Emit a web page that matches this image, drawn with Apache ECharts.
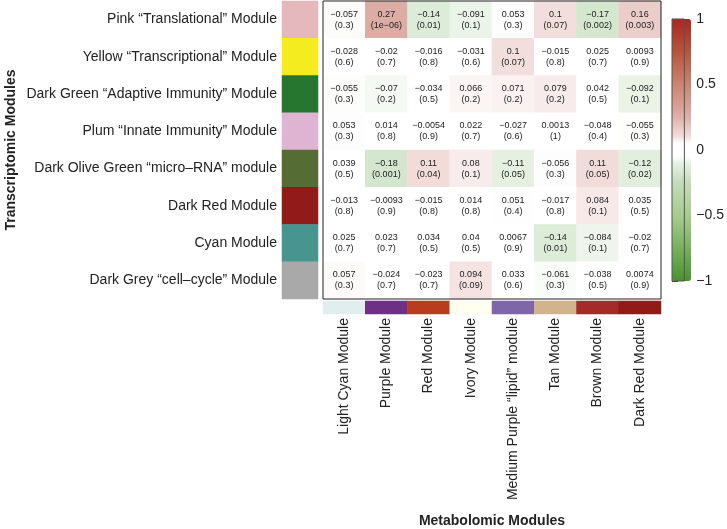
<!DOCTYPE html>
<html>
<head>
<meta charset="utf-8">
<script src="https://cdn.jsdelivr.net/npm/echarts@6/dist/echarts.min.js"></script>
<style>
html,body{margin:0;padding:0;background:#fff;}
#c{width:727px;height:529px;}
</style>
</head>
<body>
<div id="c"></div>
<script>
var rowLabels = [
  'Pink \u201cTranslational\u201d Module',
  'Yellow \u201cTranscriptional\u201d Module',
  'Dark Green \u201cAdaptive Immunity\u201d Module',
  'Plum \u201cInnate Immunity\u201d Module',
  'Dark Olive Green \u201cmicro\u2013RNA\u201d module',
  'Dark Red Module',
  'Cyan Module',
  'Dark Grey \u201ccell\u2013cycle\u201d Module'
];
var rowColors = ['#e4b8bd','#f5ec1f','#26762f','#dfb4d3','#566c35','#911b18','#46968f','#a9a9a9'];
var colLabels = [
  'Light Cyan Module','Purple Module','Red Module','Ivory Module',
  'Medium Purple \u201clipid\u201d module','Tan Module','Brown Module','Dark Red Module'
];
var colColors = ['#e0eeee','#6e3084','#b93c1f','#fffff0','#7e66a8','#d2b48c','#a52a2a','#921b17'];

var corr = [
  [-0.057, 0.27, -0.14, -0.091, 0.053, 0.1, -0.17, 0.16],
  [-0.028, -0.02, -0.016, -0.031, 0.1, -0.015, 0.025, 0.0093],
  [-0.055, -0.07, -0.034, 0.066, 0.071, 0.079, 0.042, -0.092],
  [0.053, 0.014, -0.0054, 0.022, -0.027, 0.0013, -0.048, -0.055],
  [0.039, -0.18, 0.11, 0.08, -0.11, -0.056, 0.11, -0.12],
  [-0.013, -0.0093, -0.015, 0.014, 0.051, -0.017, 0.084, 0.035],
  [0.025, 0.023, 0.034, 0.04, 0.0067, -0.14, -0.084, -0.02],
  [0.057, -0.024, -0.023, 0.094, 0.033, -0.061, -0.038, 0.0074]
];
var pvals = [
  ['0.3','1e-06','0.01','0.1','0.3','0.07','0.002','0.003'],
  ['0.6','0.7','0.8','0.6','0.07','0.8','0.7','0.9'],
  ['0.3','0.2','0.5','0.2','0.2','0.2','0.5','0.1'],
  ['0.3','0.8','0.9','0.7','0.6','1','0.4','0.3'],
  ['0.5','0.001','0.04','0.1','0.05','0.3','0.05','0.02'],
  ['0.8','0.9','0.8','0.8','0.4','0.8','0.1','0.5'],
  ['0.7','0.7','0.5','0.5','0.9','0.01','0.1','0.7'],
  ['0.3','0.7','0.7','0.09','0.6','0.3','0.5','0.9']
];
var scaleTicks = [-1, -0.5, 0, 0.5, 1];

function fmt(v){ return String(v).replace(/-/g, '\u2212'); }

// colour palette (style only): anchor colours, with a white plateau near zero
var anchors = [
  [-1, [74,146,51]], [-0.75, [120,176,94]], [-0.5, [166,204,142]], [-0.25, [195,220,186]],
  [0, [255,255,255]], [0.25, [223,176,170]], [0.5, [201,132,112]], [0.75, [183,85,62]], [1, [168,39,31]]
];
function colorAt(v){
  if (Math.abs(v) <= 0.05 + 1e-9) return 'rgb(255,255,255)';
  for (var i = 0; i < anchors.length - 1; i++) {
    var a = anchors[i], b = anchors[i+1];
    if (v >= a[0] - 1e-9 && v <= b[0] + 1e-9) {
      var t = (v - a[0]) / (b[0] - a[0]);
      var c = a[1].map(function(x, k){ return Math.round(x + (b[1][k] - x) * t); });
      return 'rgb(' + c.join(',') + ')';
    }
  }
  return 'rgb(255,255,255)';
}
var paletteStops = [];
for (var s = 0; s <= 40; s++) paletteStops.push(colorAt(-1 + s * 0.05));

var mainData = [];
for (var r = 0; r < rowLabels.length; r++) {
  for (var c = 0; c < colLabels.length; c++) {
    mainData.push([c, r, corr[r][c]]);
  }
}
var rowBarData = rowLabels.map(function(_, i){ return {value:[0, i, i], itemStyle:{color:rowColors[i]}}; });
var colBarData = colLabels.map(function(_, i){ return {value:[i, 0, i], itemStyle:{color:colColors[i]}}; });

var FONT = '"Liberation Sans", Arial, Helvetica, sans-serif';
var chart = echarts.init(document.getElementById('c'), null, {renderer:'canvas'});
chart.setOption({
  animation:false,
  textStyle:{fontFamily:FONT},
  grid:[
    {left:323, top:1, width:338, height:298, show:true, borderColor:'#222', borderWidth:1, backgroundColor:'transparent', z:10},
    {left:282, top:1, width:36, height:298},
    {left:323, top:301, width:338, height:13},
    {left:672, top:19, width:19, height:262, show:true, borderColor:'#555', borderWidth:1, backgroundColor:'transparent', z:10}
  ],
  xAxis:[
    {gridIndex:0, type:'category', data:colLabels, show:false},
    {gridIndex:1, type:'category', data:['side'], show:false},
    {gridIndex:2, type:'category', data:colLabels, position:'bottom',
      axisLine:{show:false}, axisTick:{show:false},
      axisLabel:{rotate:90, fontSize:14, color:'#222', margin:4, fontFamily:FONT},
      name:'Metabolomic Modules', nameLocation:'middle', nameGap:200,
      nameTextStyle:{fontSize:14, fontWeight:'bold', color:'#222', fontFamily:FONT}},
    {gridIndex:3, type:'value', min:0, max:1, show:false}
  ],
  yAxis:[
    {gridIndex:0, type:'category', data:rowLabels, inverse:true, show:false},
    {gridIndex:1, type:'category', data:rowLabels, inverse:true, position:'left',
      axisLine:{show:false}, axisTick:{show:false},
      axisLabel:{fontSize:14, color:'#222', margin:5, fontFamily:FONT},
      name:'Transcriptomic Modules', nameLocation:'middle', nameGap:264,
      nameTextStyle:{fontSize:14, fontWeight:'bold', color:'#222', fontFamily:FONT}},
    {gridIndex:2, type:'category', data:['side'], show:false},
    {gridIndex:3, type:'value', min:-1, max:1, interval:0.5, position:'right',
      axisLine:{show:true, lineStyle:{color:'#555', width:1}}, splitLine:{show:false},
      axisTick:{show:true, length:6, lineStyle:{color:'#333', width:1}},
      axisLabel:{fontSize:14, color:'#222', margin:12, fontFamily:FONT,
        formatter:function(v){ return fmt(v); }}}
  ],
  visualMap:{
    type:'continuous', min:-1, max:1, seriesIndex:0, calculable:false,
    left:672, top:19, itemWidth:19, itemHeight:262, padding:0,
    inRange:{color:paletteStops}
  },
  series:[
    {type:'heatmap', xAxisIndex:0, yAxisIndex:0, data:mainData,
      label:{show:true, fontSize:9, lineHeight:11, color:'#222', fontFamily:FONT,
        formatter:function(p){
          var c = p.value[0], r = p.value[1];
          return fmt(corr[r][c]) + '\n(' + fmt(pvals[r][c]) + ')';
        }},
      emphasis:{disabled:true}},
    {type:'heatmap', xAxisIndex:1, yAxisIndex:1, data:rowBarData, emphasis:{disabled:true}},
    {type:'heatmap', xAxisIndex:2, yAxisIndex:2, data:colBarData, emphasis:{disabled:true}}
  ]
});
</script>
</body>
</html>
